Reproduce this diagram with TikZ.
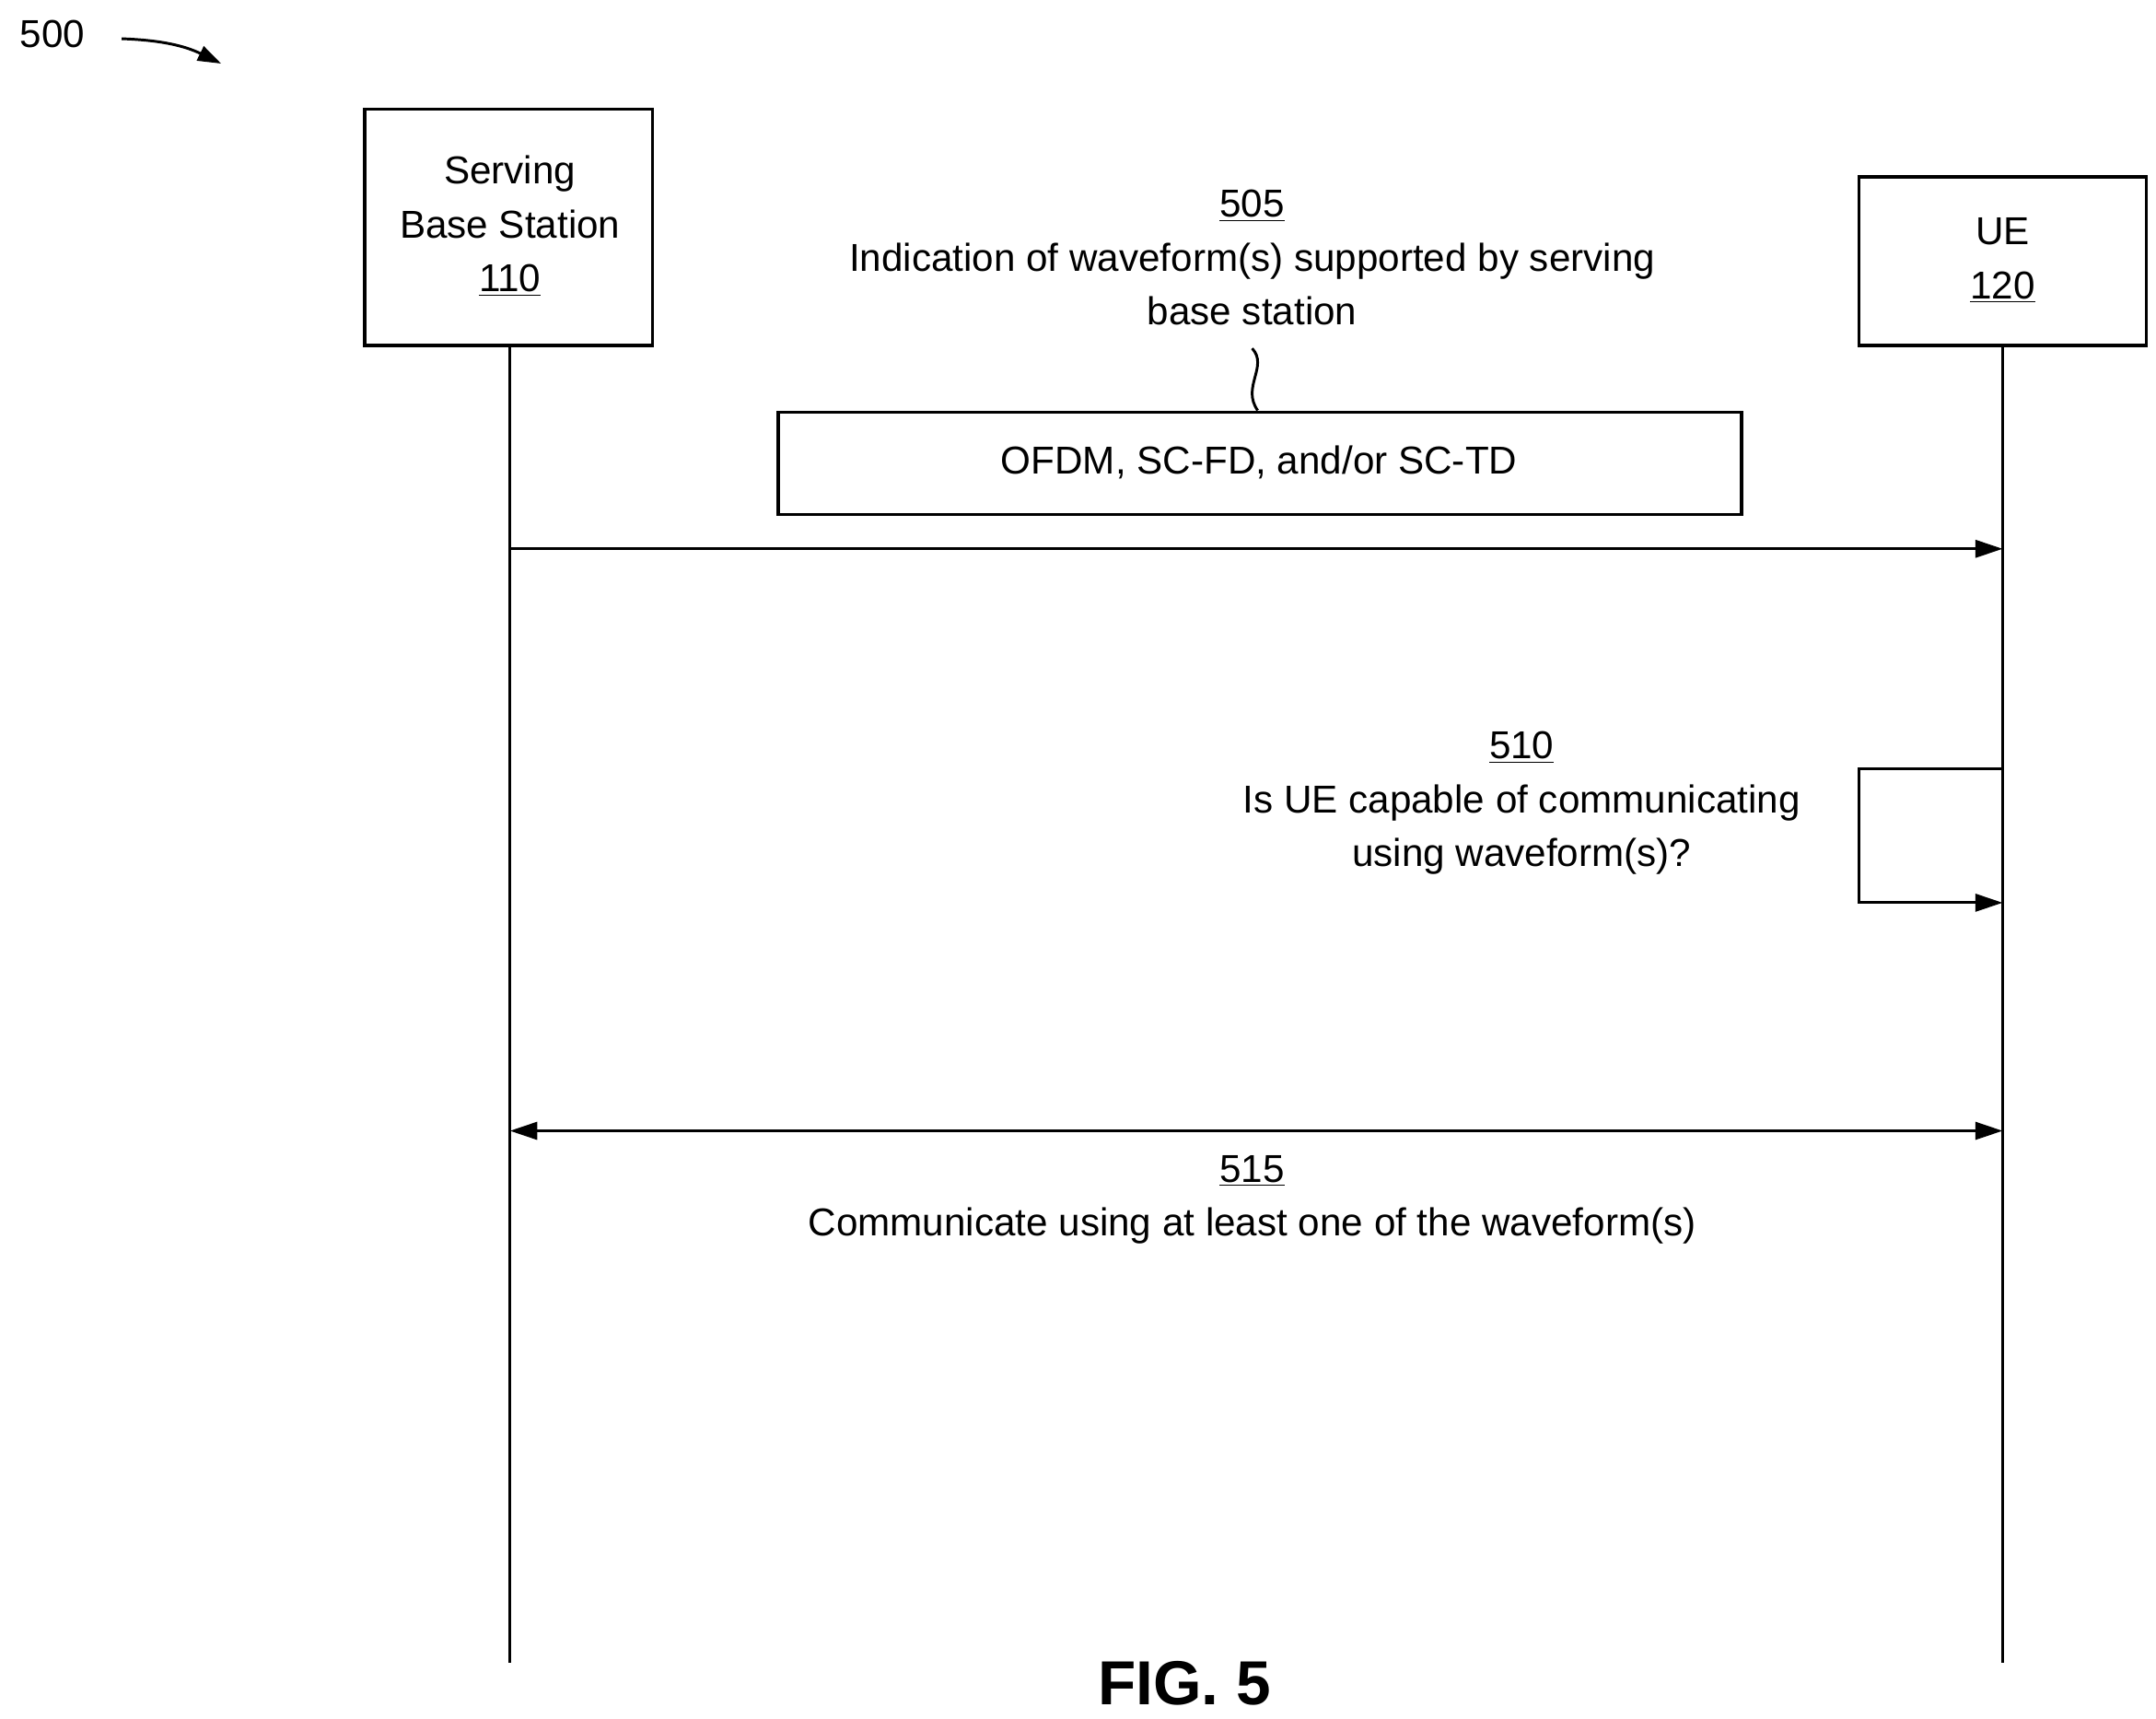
\documentclass[tikz,border=0pt]{standalone}
\usepackage{fontspec}
\setmainfont{Liberation Sans}
\usetikzlibrary{arrows.meta}
\begin{document}
\begin{tikzpicture}[x=0.025cm,y=-0.025cm,
  every node/.style={font=\fontsize{20}{27.7}\selectfont},
  box/.style={draw,line width=1.6pt,inner sep=0pt},
  lbl/.style={align=center,inner sep=0pt},
  ln/.style={line width=1.4pt},
  arr/.style={ln,-{Triangle[length=14pt,width=9pt]}}]
\useasboundingbox (0,0) rectangle (1560,1243);
\node[lbl,anchor=base] (n500) at (38,34) {500};
\coordinate (a1) at (88,28); \coordinate (a2) at (160,46);
\draw[ln,-{Triangle[length=12pt,width=8pt]}] (a1) to[bend left=12] (a2);
\node[box,minimum width=208*0.025cm,minimum height=171*0.025cm] (bs) at (368,164.5) {};
\node[lbl,anchor=base] at (369,133) {Serving};
\node[lbl,anchor=base] at (369,172) {Base Station};
\node[lbl,anchor=base] at (369,211) {\underline{110}};
\node[box,minimum width=208*0.025cm,minimum height=122*0.025cm] (ue) at (1449,189) {};
\node[lbl,anchor=base] at (1449,177) {UE};
\node[lbl,anchor=base] at (1449,216) {\underline{120}};
\coordinate (bsb) at (369,1203); \coordinate (ueb) at (1449,1203);
\draw[ln] (369,250) -- (bsb);
\draw[ln] (1449,250) -- (ueb);
\node[lbl,anchor=base] at (906,157) {\underline{505}};
\node[lbl,anchor=base] at (906,196) {Indication of waveform(s) supported by serving};
\node[lbl,anchor=base] at (906,235) {base station};
\node[box,minimum width=697*0.025cm,minimum height=74*0.025cm] (w) at (911.5,335) {};
\node[lbl,anchor=base] at (911,343) {OFDM, SC-FD, and/or SC-TD};
\draw[ln] (906,252) .. controls (918,265) and (898,280) .. (w.north-|910,0);
\coordinate (s1) at (369,397); \coordinate (e1) at (1449,397);
\draw[arr] (s1) -- (e1);
\node[lbl,anchor=base] at (1101,549) {\underline{510}};
\node[lbl,anchor=base] at (1101,588) {Is UE capable of communicating};
\node[lbl,anchor=base] at (1101,627) {using waveform(s)?};
\coordinate (l1) at (1449,556); \coordinate (l2) at (1449,653);
\draw[arr] (l1) -- (1345,556) -- (1345,653) -- (l2);
\coordinate (s3) at (369,818); \coordinate (e3) at (1449,818);
\draw[ln,{Triangle[length=14pt,width=9pt]}-{Triangle[length=14pt,width=9pt]}] (s3) -- (e3);
\node[lbl,anchor=base] at (906,855) {\underline{515}};
\node[lbl,anchor=base] at (906,894) {Communicate using at least one of the waveform(s)};
\node[lbl,anchor=base,font=\fontsize{32}{36}\selectfont\bfseries] at (857,1233) {FIG. 5};
\end{tikzpicture}
\end{document}
